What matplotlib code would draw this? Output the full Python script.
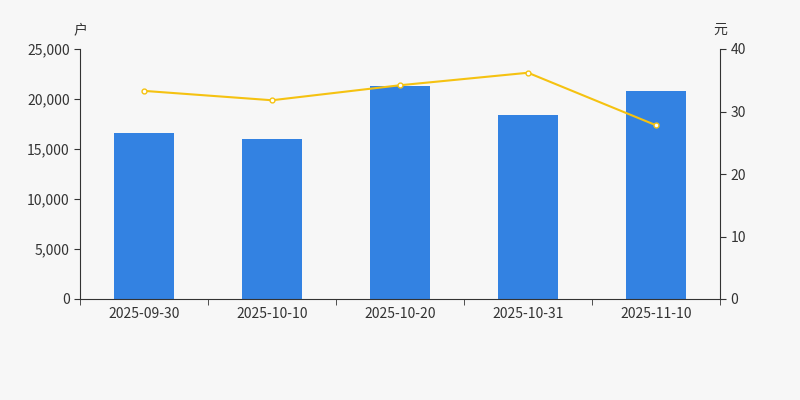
import matplotlib
matplotlib.use("Agg")
import matplotlib.pyplot as plt

dates = ["2025-09-30", "2025-10-10", "2025-10-20", "2025-10-31", "2025-11-10"]
holders = [16600, 16050, 21350, 18400, 20850]
price = [33.3, 31.8, 34.2, 36.2, 27.8]

plt.rcParams['font.family'] = ['Noto Sans CJK SC', 'DejaVu Sans']
bg = "#f7f7f7"
fig = plt.figure(figsize=(8, 4), dpi=100, facecolor=bg)
ax = fig.add_axes([0.1, 0.2525, 0.8, 0.625], facecolor=bg)
x = range(len(dates))
ax.bar(x, holders, width=0.47, color="#3382e2", zorder=2)
ax.set_xlim(-0.5, 4.5)
ax.set_ylim(0, 25000)
ax.set_yticks(range(0, 25001, 5000))
ax.set_yticklabels([f"{v:,}" for v in range(0, 25001, 5000)])
ax.set_xticks(list(x))
ax.set_xticklabels(dates)
ax.set_xticks([i + 0.5 for i in range(-1, 5)], minor=True)
ax.tick_params(axis='x', which='major', length=0, pad=6)
ax.tick_params(axis='x', which='minor', length=4, color="#333")
ax.tick_params(axis='y', length=4, color="#333")
ax.tick_params(colors="#333", labelsize=10)
for s in ["top", "right"]:
    ax.spines[s].set_visible(False)
ax.spines["left"].set_color("#333")
ax.spines["bottom"].set_color("#333")

ax2 = ax.twinx()
ax2.plot(list(x), price, color="#f5c211", lw=1.5, marker="o", ms=3.5,
         mfc="white", mec="#f5c211", zorder=3)
ax2.set_ylim(0, 40)
ax2.set_yticks(range(0, 41, 10))
ax2.tick_params(colors="#333", labelsize=10, length=4)
for s in ["top", "left", "bottom"]:
    ax2.spines[s].set_visible(False)
ax2.spines["right"].set_color("#333")

fig.text(0.1, 0.915, "户", ha="center", fontsize=10, color="#333")
fig.text(0.9, 0.915, "元", ha="center", fontsize=10, color="#333")
fig.savefig("out.png", dpi=100, facecolor=bg)
